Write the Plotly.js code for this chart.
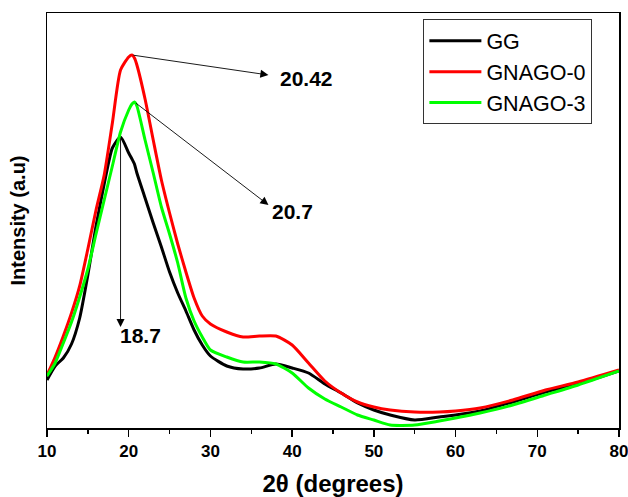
<!DOCTYPE html>
<html>
<head>
<meta charset="utf-8">
<script src="https://cdn.plot.ly/plotly-3.0.1.min.js"></script>
<style>html,body{margin:0;padding:0;background:#fff;}#chart{width:628px;height:497px;}</style>
</head>
<body>
<div id="chart"></div>
<script>
// 2θ (degrees)
var twoTheta = [10,11,12,13,14,15,16,17,18,19,20,20.4,20.7,21,22,23,24,25,26,27,28,29,30,32,34,36,38,40,42,44,46,48,50,52,55,58,60,63,67,71,75,80];
// Intensity (a.u.)
var GG      = [48,62,70,84,110,153,202,244,280,291,275,269,264,255,230,205,181,156,135,117,98,83,72,62,59,60,64,60,55,44,35,25,18,13,8,11,13,17,26,36,44,57];
var GNAGO0  = [53,71,92,115,142,179,218,253,305,358,371,373,370,363,329,288,248,215,184,156,130,112,104,96,91,92,92,83,65,47,35,26,21,18,16,16,17,20,28,38,46,58];
var GNAGO3  = [52,65,85,106,131,159,194,228,262,296,318,324,326,322,288,255,221,194,165,130,107,91,78,71,66,66,64,55,40,29,21,13,8,3,3,7,10,15,23,33,43,57];
var seriesNames = ['GG','GNAGO-0','GNAGO-3'];
var seriesColors = ['#000000','#ff0000','#00ff00'];
var peakLabels = ['18.7','20.42','20.7'];
var xTickVals = [10,20,30,40,50,60,70,80];

var allY = [GG, GNAGO0, GNAGO3];
var traces = allY.map(function(y, i){
  return {x: twoTheta, y: y, type: 'scatter', mode: 'lines', name: seriesNames[i],
          line: {color: seriesColors[i], width: 3, shape: 'spline', smoothing: 0.6}};
});

function peak(y){
  var m = 0;
  for (var i = 1; i < y.length; i++) if (y[i] > y[m]) m = i;
  return {x: twoTheta[m], y: y[m]};
}
var pGG = peak(GG), p0 = peak(GNAGO0), p3 = peak(GNAGO3);

var FONT = 'Liberation Sans, Arial, sans-serif';
function arrow(tail, hx, hy){
  return {x: hx, y: hy, ax: tail.x, ay: tail.y, axref: 'x', ayref: 'y', xref: 'x', yref: 'y',
          text: '', showarrow: true, arrowhead: 2, arrowsize: 1.8, arrowwidth: 0.9, arrowcolor: '#000', standoff: 0, startstandoff: 0};
}
function label(t, x, y){
  return {x: x, y: y, xref: 'x', yref: 'y', text: t, showarrow: false,
          font: {family: FONT, size: 21, color: '#000', weight: 700}};
}
var annotations = [
  arrow(p0, 37.1, 353), label(peakLabels[1], 41.8, 350),
  arrow(p3, 37.1, 223), label(peakLabels[2], 40.0, 217),
  arrow(pGG, pGG.x, 101), label(peakLabels[0], 21.4, 93)
];

var layout = {
  width: 628, height: 497,
  margin: {l: 47, r: 9, t: 13, b: 69},
  paper_bgcolor: '#fff', plot_bgcolor: '#fff',
  showlegend: true,
  legend: {x: 0.658, y: 0.985, xanchor: 'left', yanchor: 'top', bgcolor: '#fff',
           bordercolor: '#333', borderwidth: 1, font: {family: FONT, size: 21.5, color: '#000'},
           itemwidth: 52, tracegroupgap: 0},
  xaxis: {range: [10, 80], tickmode: 'array', tickvals: xTickVals, ticktext: xTickVals.map(String),
          ticklabeloverflow: 'allow',
          ticks: 'outside', ticklen: 7, tickwidth: 1.5, tickcolor: '#000',
          minor: {dtick: 5, tick0: 10, ticks: 'outside', ticklen: 4, tickwidth: 1.5, tickcolor: '#000'},
          showline: true, linecolor: '#000', linewidth: 1.5, mirror: true, showgrid: false, zeroline: false,
          tickfont: {family: FONT, size: 17, color: '#000', weight: 700},
          title: {text: '2θ (degrees)', font: {family: FONT, size: 24, color: '#000', weight: 700}, standoff: 16}},
  yaxis: {range: [0, 415], showticklabels: false, ticks: '', showline: true, linecolor: '#000', linewidth: 1.5,
          mirror: true, showgrid: false, zeroline: false,
          title: {text: 'Intensity (a.u)', font: {family: FONT, size: 20, color: '#000', weight: 700}, standoff: 14}},
  annotations: annotations
};
Plotly.newPlot('chart', traces, layout, {displayModeBar: false, staticPlot: true});
</script>
</body>
</html>
